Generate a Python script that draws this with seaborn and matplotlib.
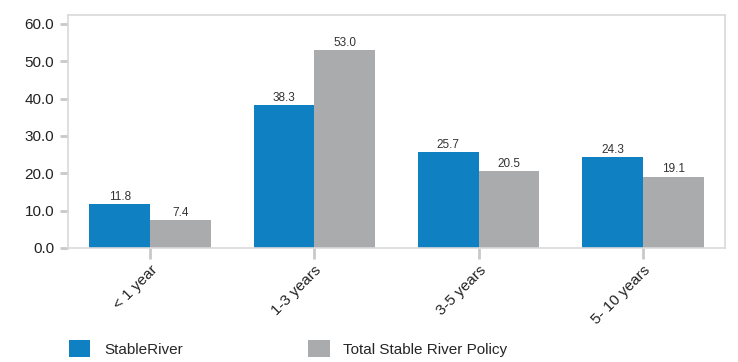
import matplotlib
matplotlib.use("Agg")
from matplotlib import pyplot as plt
from matplotlib.patches import Patch
import pandas as pd
import seaborn as sns

# Chart data
categories = ["< 1 year", "1-3 years", "3-5 years", "5- 10 years"]
series_names = ["StableRiver", "Total Stable River Policy"]
stableriver = [11.8, 38.3, 25.7, 24.3]
total_policy = [7.4, 53.0, 20.5, 19.1]
y_ticks = [0, 10, 20, 30, 40, 50, 60]

colors = ["#0f80c1", "#aaabad"]
frame_grey = "#d9d9d9"
tick_grey = "#c8c9cb"

df = pd.DataFrame({
    "Category": categories * 2,
    "Series": [series_names[0]] * 4 + [series_names[1]] * 4,
    "Value": stableriver + total_policy,
})

sns.set_style("white")
plt.rcParams["font.family"] = ["Liberation Sans", "DejaVu Sans"]

fig = plt.figure(figsize=(7.38, 3.62), dpi=100)
ax = fig.add_axes([0.0921, 0.315, 0.8903, 0.6439])

sns.barplot(
    data=df,
    x="Category",
    y="Value",
    hue="Series",
    palette=colors,
    width=0.74,
    saturation=1,
    linewidth=0,
    edgecolor="none",
    ax=ax,
    legend=False,
)

# value labels above each bar
for container in ax.containers:
    ax.bar_label(container, fmt="%.1f", padding=1, fontsize=8.5, color="#333333")

ax.set_xlim(-0.5, 3.5)
ax.set_ylim(0, 62.4)
ax.set_yticks(y_ticks)
ax.set_yticklabels([f"{v:.1f}" for v in y_ticks], fontsize=11, color="#222222")
ax.set_xticks(range(len(categories)))
ax.set_xticklabels(categories, rotation=45, ha="right", rotation_mode="anchor",
                   fontsize=11, color="#222222")
ax.set_xlabel("")
ax.set_ylabel("")

for side in ["top", "right", "left", "bottom"]:
    ax.spines[side].set_visible(True)
    ax.spines[side].set_color(frame_grey)
    ax.spines[side].set_linewidth(1.2)

ax.tick_params(axis="y", left=True, length=6, width=2, color=tick_grey, pad=4)
ax.tick_params(axis="x", bottom=True, length=8, width=2, color=tick_grey, pad=3)

handles = [Patch(facecolor=c, edgecolor="none") for c in colors]
fig.legend(
    handles, series_names,
    loc="lower left",
    bbox_to_anchor=(0.075, -0.025),
    ncol=2,
    frameon=False,
    fontsize=11,
    handlelength=1.4,
    handleheight=1.35,
    handletextpad=0.9,
    columnspacing=8.2,
)

fig.savefig("out.png", dpi=100)
